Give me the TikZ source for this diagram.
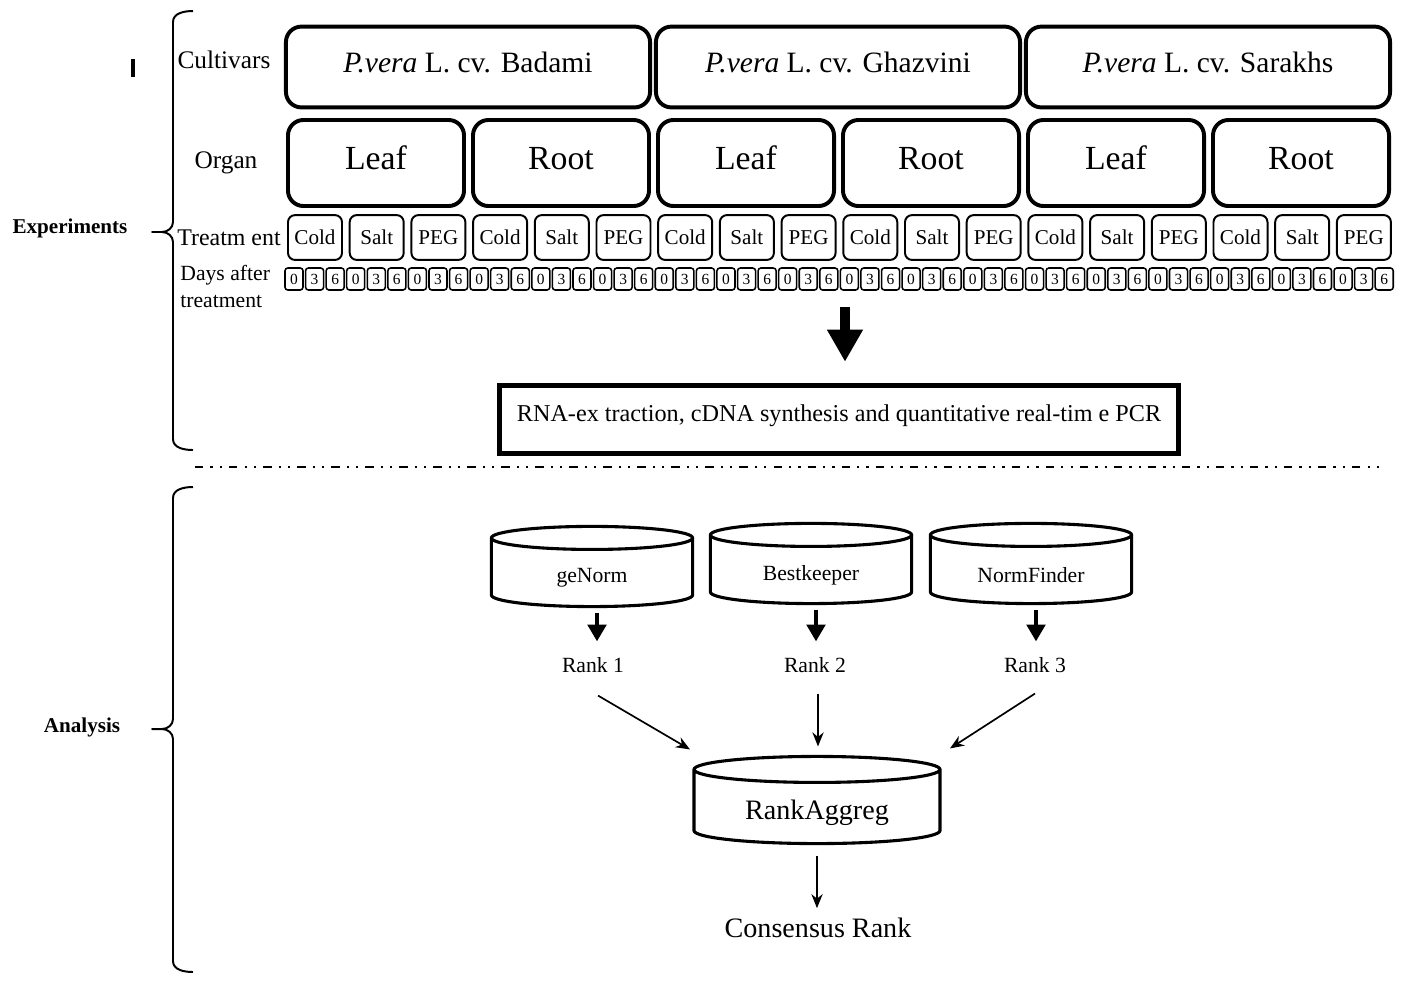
\documentclass[tikz,border=0pt]{standalone}
\usepackage{fontspec}
\setmainfont{Liberation Serif}
\usetikzlibrary{arrows.meta,positioning,calc}
\newcommand{\fs}[1]{\fontsize{#1}{#1}\selectfont}
% outline of a drum: #1 node, #2 half height of the top ellipse
\newcommand{\drumoutline}[2]{%
  \draw[drumline] let \p1=(#1.north west), \p2=(#1.south east), \n1={(\x2-\x1)/2} in
    (\x1,\y1+#2) -- (\x1,\y2+#2)
      arc[start angle=180, end angle=360, x radius=\n1, y radius=#2]
      -- (\x2,\y1+#2)
    ($(#1.north)+(0,#2)$) ellipse [x radius=\n1, y radius=#2];
}
% left bracket: #1 top, #2 tip, #3 bottom (y values)
\newcommand{\sidebrace}[3]{%
  \draw[brc] (193,#1) to[out=180,in=90] (173,#1+11) -- (173,#2-10)
    to[out=270,in=0] (162,#2) -- (152,#2) -- (162,#2)
    to[out=0,in=90] (173,#2+10) -- (173,#3-11) to[out=270,in=180] (193,#3);
}
\tikzset{
  cbox/.style  ={draw,line width=1.4pt,rounded corners=5.5pt,minimum width=4.55cm,
                 minimum height=1.01cm,text depth=3.5pt,font=\fs{10.5}},
  obox/.style  ={draw,line width=1.4pt,rounded corners=5.5pt,minimum width=2.2cm,
                 minimum height=1.075cm,text depth=3.5pt,font=\fs{12}},
  tbox/.style  ={draw,line width=0.7pt,rounded corners=2.5pt,minimum width=0.675cm,
                 minimum height=0.56cm,inner sep=0pt,font=\fs{7.5}},
  dbox/.style  ={draw,line width=0.55pt,rounded corners=1pt,minimum width=0.225cm,
                 minimum height=0.275cm,inner sep=0pt,font=\fs{5.5}},
  rbox/.style  ={draw,line width=1.8pt,minimum width=8.475cm,minimum height=0.84cm,
                 text depth=4.5pt,font=\fs{8.6}},
  drum/.style  ={minimum width=#1,minimum height=0.7cm,inner sep=0pt,font=\fs{7.7}},
  drumline/.style={line width=1.1pt},
  lbl/.style   ={font=\fs{9},inner sep=1pt},
  rnk/.style   ={font=\fs{7.7}},
  ar/.style    ={-{Stealth[length=5pt,width=4pt]},line width=0.6pt},
  arb/.style   ={-{Triangle[length=6pt,width=6.5pt]},line width=1.6pt},
  arbig/.style ={-{Triangle[length=11.4pt,width=12pt]},line width=3.6pt},
  brc/.style   ={line width=0.7pt,line join=round},
  sepline/.style={line width=0.8pt,dash pattern=on 3pt off 2.5pt on 0.8pt off 2.5pt on 0.8pt off 2.5pt},
}

\begin{document}
\begin{tikzpicture}[x=0.0125cm,y=-0.0125cm]
\useasboundingbox (0,0) rectangle (1408,1006);

% experiments
\sidebrace{11}{232}{450}
\node[font=\bfseries\fs{7.5}] (expl) at (70,228) {Experiments};
\draw[line width=1.1pt] (133,59) -- (133,77);
\node[lbl] (cvl) at (224,60) {Cultivars};
\node[lbl] (orgl) at (226,163) {Organ};
\node[lbl,font=\fs{8.5}] (trl) at (229,238) {Treatm ent};
\node[lbl,font=\fontsize{7.7}{9.6}\selectfont,align=left,anchor=west] (dayl) at (177,286) {Days after\\treatment};

\foreach \cv [count=\i from 0] in {Badami,Ghazvini,Sarakhs}
  \node[cbox] (cv\i) at ({468+370*\i},67) {\textit{P.vera} L. cv. \cv};
\foreach \i in {0,...,5}
  \node[obox] (org\i) at ({376+185*\i},163) {\ifodd\i\relax Root\else Leaf\fi};
\foreach \i in {0,...,5}
  \foreach \t [count=\j from 0] in {Cold,Salt,PEG}
    \node[tbox] (tr\i-\j) at ({315+61.7*(3*\i+\j)},237.5) {\t};
\foreach \k in {0,...,17}
  \foreach \d [count=\j from 0] in {0,3,6}
    \node[dbox] (day\k-\j) at ({294+20.57*(3*\k+\j)},279) {\d};

\node[rbox] (rna) at (839,419.5) {RNA-ex traction, cDNA synthesis and quantitative real-tim e PCR};
\coordinate (bigtop) at (845,307);
\draw[arbig,shorten >=0.27cm] (bigtop) -- (bigtop |- rna.north);

\draw[sepline] (195,467) -- (1380,467);

% analysis
\sidebrace{487}{729}{972}
\node[font=\bfseries\fs{7.5}] (anl) at (82,727) {Analysis};

\node[drum=2.5cm] (gn) at (592,578) {geNorm};
\node[drum=2.5cm] (bk) at (811,575) {Bestkeeper};
\node[drum=2.5cm] (nf) at (1031,575) {NormFinder};
\node[drum=3.06cm,minimum height=0.75cm,font=\fs{10}] (ra) at (817,813) {RankAggreg};
\drumoutline{gn}{0.144cm}
\drumoutline{bk}{0.144cm}
\drumoutline{nf}{0.144cm}
\drumoutline{ra}{0.1625cm}

\node[rnk] (r1) at (593,665) {Rank 1};
\node[rnk] (r2) at (815,665) {Rank 2};
\node[rnk] (r3) at (1035,665) {Rank 3};
\node[font=\fs{10}] (cr) at (818,928) {Consensus Rank};

\draw[arb,shorten <=0.075cm,shorten >=0.075cm] ([xshift=0.0625cm]gn.south) -- ([xshift=0.0625cm]gn.south |- r1.north);
\draw[arb,shorten <=0.075cm,shorten >=0.075cm] ([xshift=0.0625cm]bk.south) -- ([xshift=0.0625cm]bk.south |- r2.north);
\draw[arb,shorten <=0.075cm,shorten >=0.075cm] ([xshift=0.0625cm]nf.south) -- ([xshift=0.0625cm]nf.south |- r3.north);

\draw[ar] ($(r1.south)+(5,13)$) -- ($(ra.north)+(-127,-33)$);
\draw[ar] ($(r2.south)+(3,11)$) -- ($(ra.north)+(1,-36)$);
\draw[ar] ($(r3.south)+(0,11)$) -- ($(ra.north)+(133,-34)$);
\draw[ar,shorten <=0.15cm] (ra.south) -- (ra.south |- cr.north);
\end{tikzpicture}
\end{document}
